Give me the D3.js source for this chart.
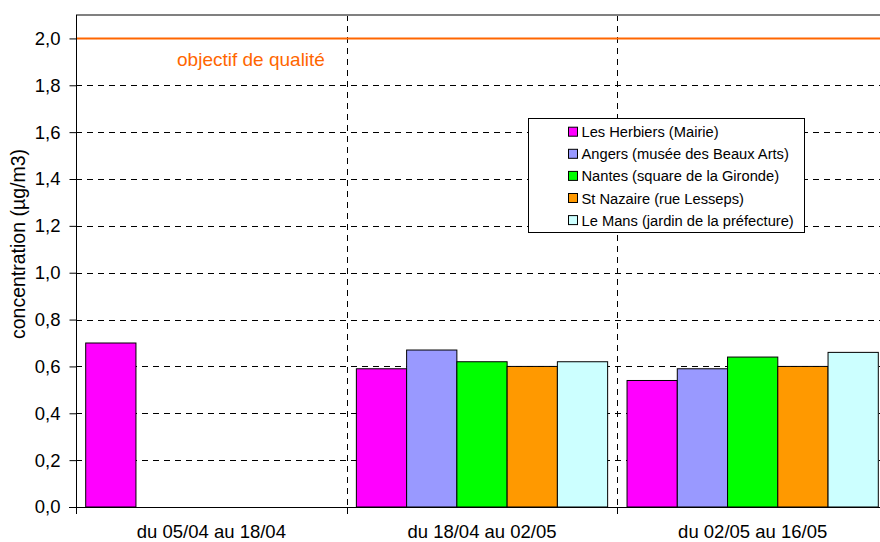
<!DOCTYPE html>
<html>
<head>
<meta charset="utf-8">
<script src="https://cdn.jsdelivr.net/npm/d3@7"></script>
<style>
  body { margin: 0; background: #fff; }
  svg { display: block; font-family: "Liberation Sans", Arial, sans-serif; }
</style>
</head>
<body>
<svg id="chart" width="880" height="542"></svg>
<script>
// Periods (x categories)
const periods = ["du 05/04 au 18/04", "du 18/04 au 02/05", "du 02/05 au 16/05"];
// Measurement sites
const sites = [
  "Les Herbiers (Mairie)",
  "Angers (musée des Beaux Arts)",
  "Nantes (square de la Gironde)",
  "St Nazaire (rue Lesseps)",
  "Le Mans (jardin de la préfecture)"
];
const siteColors = ["#FF00FF", "#9999FF", "#00FF00", "#FF9900", "#CCFFFF"];
// Concentrations per site, one value per period (null = no measurement)
const herbiers  = [0.70, 0.59, 0.54];
const angers    = [null, 0.67, 0.59];
const nantes    = [null, 0.62, 0.64];
const stNazaire = [null, 0.60, 0.60];
const leMans    = [null, 0.62, 0.66];
const seriesValues = [herbiers, angers, nantes, stNazaire, leMans];
// Quality objective
const objective = 2.0;
const objectiveLabel = "objectif de qualité";
const yTicks = [0, 0.2, 0.4, 0.6, 0.8, 1.0, 1.2, 1.4, 1.6, 1.8, 2.0];
const yTitle = "concentration (µg/m3)";

const svg = d3.select("#chart");
const pLeft = 76, pTop = 15, pRight = 888, pBottom = 507;
const FONT = "'Liberation Sans', Arial, sans-serif";

const x = d3.scaleBand().domain(periods).range([pLeft, pRight]).paddingInner(0).paddingOuter(0);
// ~10px gap on each side of the group of bars
const xs = d3.scaleBand().domain(d3.range(sites.length))
  .range([9.7, x.bandwidth() - 9.7]).paddingInner(0).paddingOuter(0);
const y = d3.scaleLinear().domain([0, 2.1]).range([pBottom, pTop]);
const fmt = v => d3.format(".1f")(v).replace(".", ",");

// horizontal dashed gridlines
svg.append("g").selectAll("line")
  .data(yTicks.filter(t => t > 0 && t < objective))
  .join("line")
  .attr("x1", pLeft).attr("x2", pRight)
  .attr("y1", d => Math.round(y(d)) + 0.5).attr("y2", d => Math.round(y(d)) + 0.5)
  .attr("stroke", "#000").attr("stroke-width", 1).attr("stroke-dasharray", "6,5");

// vertical dashed separators between periods
svg.append("g").selectAll("line")
  .data(periods.slice(1))
  .join("line")
  .attr("x1", d => Math.round(x(d)) + 0.5).attr("x2", d => Math.round(x(d)) + 0.5)
  .attr("y1", pTop).attr("y2", pBottom)
  .attr("stroke", "#000").attr("stroke-width", 1).attr("stroke-dasharray", "6,5");

// top border
svg.append("line").attr("x1", pLeft).attr("x2", pRight)
  .attr("y1", pTop).attr("y2", pTop).attr("stroke", "#808080").attr("stroke-width", 2);

// bars
const bars = [];
periods.forEach((p, i) => {
  seriesValues.forEach((vals, s) => {
    if (vals[i] != null) bars.push({ p, s, v: vals[i] });
  });
});
svg.append("g").selectAll("rect")
  .data(bars)
  .join("rect")
  .attr("x", d => x(d.p) + xs(d.s))
  .attr("width", xs.bandwidth())
  .attr("y", d => y(d.v))
  .attr("height", d => y(0) - y(d.v))
  .attr("fill", d => siteColors[d.s])
  .attr("stroke", "#000").attr("stroke-width", 1);

// quality objective line
svg.append("line").attr("x1", pLeft).attr("x2", pRight)
  .attr("y1", y(objective)).attr("y2", y(objective))
  .attr("stroke", "#FF6600").attr("stroke-width", 2);
svg.append("text").attr("x", 251).attr("y", 66)
  .attr("text-anchor", "middle").attr("font-size", 19).attr("fill", "#FF6600")
  .attr("font-family", FONT)
  .text(objectiveLabel);

// y axis
const yAxis = d3.axisLeft(y).tickValues(yTicks).tickFormat(fmt).tickSize(7).tickPadding(9);
const gy = svg.append("g").attr("transform", `translate(${pLeft + 0.5},0)`).call(yAxis);
gy.select(".domain").attr("stroke", "#000").attr("d", `M0,${pTop}V${pBottom}`);
gy.selectAll(".tick line").attr("stroke", "#000");
gy.selectAll("text").attr("font-size", 18.5).attr("fill", "#000").attr("font-family", FONT);

// x axis
const gx = svg.append("g").attr("transform", `translate(0,${pBottom + 0.5})`)
  .call(d3.axisBottom(x).tickSize(0).tickPadding(17));
gx.select(".domain").attr("stroke", "#000").attr("d", `M${pLeft - 7},0H${pRight}`);
gx.selectAll("text").attr("font-size", 18.5).attr("fill", "#000").attr("font-family", FONT);
// period boundary ticks
svg.append("g").selectAll("line")
  .data(periods.map(p => x(p)).concat([pRight]))
  .join("line")
  .attr("x1", d => Math.round(d) + 0.5).attr("x2", d => Math.round(d) + 0.5)
  .attr("y1", pBottom).attr("y2", pBottom + 7)
  .attr("stroke", "#000");

// y title
svg.append("text")
  .attr("transform", `translate(25,244) rotate(-90)`)
  .attr("text-anchor", "middle").attr("font-size", 19.5).attr("fill", "#000")
  .attr("font-family", FONT)
  .text(yTitle);

// legend
const lg = svg.append("g").attr("transform", "translate(528.5,118.5)");
lg.append("rect").attr("width", 276).attr("height", 114)
  .attr("fill", "#fff").attr("stroke", "#000").attr("stroke-width", 1);
const items = lg.selectAll("g.item").data(sites).join("g")
  .attr("class", "item")
  .attr("transform", (d, i) => `translate(0,${13.2 + i * 22.1})`);
items.append("rect").attr("x", 40).attr("y", -4.5).attr("width", 9).attr("height", 9)
  .attr("fill", (d, i) => siteColors[i]).attr("stroke", "#000").attr("stroke-width", 1);
items.append("text").attr("x", 53).attr("y", 5.5)
  .attr("font-size", 14.7).attr("fill", "#000").attr("font-family", FONT).text(d => d);
</script>
</body>
</html>
